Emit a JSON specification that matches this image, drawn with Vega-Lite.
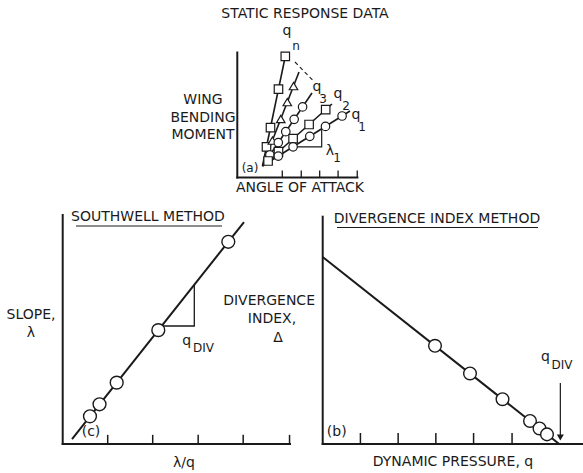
{
  "$schema": "https://vega.github.io/schema/vega-lite/v6.json",
  "background": "white",
  "width": 583,
  "height": 473,
  "autosize": "none",
  "padding": 0,
  "config": {
    "view": {"stroke": null},
    "text": {"font": "DejaVu Sans", "fontSize": 14, "color": "#1a1a1a", "baseline": "middle"},
    "line": {"color": "#1a1a1a", "strokeWidth": 1.8},
    "rule": {"color": "#1a1a1a", "strokeWidth": 1.5}
  },
  "datasets": {
    "a_axes": [{"u": 0, "u2": 0, "v": 0, "v2": 10}, {"u": 0, "u2": 6.46, "v": 0, "v2": 0}],
    "a_ticks": [
      {"u": 2.42, "v": 0, "v2": 0.56}, {"u": 3.44, "v": 0, "v2": 0.56}, {"u": 4.43, "v": 0, "v2": 0.56},
      {"u": 5.42, "v": 0, "v2": 0.56}, {"u": 6.45, "v": 0, "v2": 0.56}
    ],
    "a_lines": [
      {"series": "qn", "u": 1.355, "v": 0.92}, {"series": "qn", "u": 2.619, "v": 9.96},
      {"series": "q4", "u": 1.355, "v": 0.92}, {"series": "q4", "u": 3.318, "v": 8.44},
      {"series": "q3", "u": 1.355, "v": 0.92}, {"series": "q3", "u": 4.017, "v": 6.76},
      {"series": "q2", "u": 1.355, "v": 0.92}, {"series": "q2", "u": 5.092, "v": 5.88},
      {"series": "q1", "u": 1.355, "v": 0.92}, {"series": "q1", "u": 6.06, "v": 5.32}
    ],
    "a_pts": [
      {"series": "qn", "u": 2.581, "v": 9.688}, {"series": "qn", "u": 2.215, "v": 7.064},
      {"series": "qn", "u": 1.785, "v": 3.992}, {"series": "qn", "u": 1.57, "v": 2.456},
      {"series": "q4", "u": 3.022, "v": 7.312}, {"series": "q4", "u": 2.688, "v": 6.032},
      {"series": "q4", "u": 2.339, "v": 4.68}, {"series": "q4", "u": 1.887, "v": 2.952},
      {"series": "q3", "u": 3.511, "v": 5.648}, {"series": "q3", "u": 3.059, "v": 4.656},
      {"series": "q3", "u": 2.608, "v": 3.664}, {"series": "q3", "u": 2.205, "v": 2.792},
      {"series": "q3", "u": 1.753, "v": 1.8},
      {"series": "q2", "u": 4.753, "v": 5.432}, {"series": "q2", "u": 3.861, "v": 4.24},
      {"series": "q2", "u": 3.0, "v": 3.104}, {"series": "q2", "u": 2.215, "v": 2.064},
      {"series": "q2", "u": 1.656, "v": 1.32},
      {"series": "q1", "u": 5.635, "v": 4.92}, {"series": "q1", "u": 4.742, "v": 4.088},
      {"series": "q1", "u": 3.898, "v": 3.296}, {"series": "q1", "u": 3.0, "v": 2.456},
      {"series": "q1", "u": 2.205, "v": 1.712}
    ],
    "a_dash": [{"u": 3.102, "v": 9.24}, {"u": 4.097, "v": 7.72}],
    "a_bracket": [
      {"ord": 1, "u": 3.0, "v": 2.456}, {"ord": 2, "u": 4.538, "v": 2.456}, {"ord": 3, "u": 4.538, "v": 3.896}
    ],
    "a_text": [
      {"t": "STATIC RESPONSE DATA", "u": 3.64, "v": 13.08},
      {"t": "ANGLE OF ATTACK", "u": 3.371, "v": -0.84},
      {"t": "WING", "u": -1.844, "v": 6.2},
      {"t": "BENDING", "u": -1.844, "v": 4.76},
      {"t": "MOMENT", "u": -1.844, "v": 3.4},
      {"t": "q", "u": 2.672, "v": 11.7},
      {"t": "q", "u": 4.285, "v": 7.26},
      {"t": "q", "u": 5.414, "v": 6.66},
      {"t": "q", "u": 6.383, "v": 4.98},
      {"t": "λ", "u": 4.984, "v": 2.12}
    ],
    "a_sub": [
      {"t": "n", "u": 3.156, "v": 10.52},
      {"t": "3", "u": 4.608, "v": 6.28},
      {"t": "2", "u": 5.845, "v": 5.72},
      {"t": "1", "u": 6.705, "v": 4.04},
      {"t": "1", "u": 5.36, "v": 1.56},
      {"t": "(a)", "u": 0.683, "v": 0.76}
    ],
    "c_axes": [{"u": 0, "u2": 0, "v": 0, "v2": 5}, {"u": 0, "u2": 5, "v": 0, "v2": 0}],
    "c_ticks": [
      {"u": 0.99, "v": 0, "v2": 0.2}, {"u": 1.98, "v": 0, "v2": 0.2}, {"u": 2.98, "v": 0, "v2": 0.2},
      {"u": 3.97, "v": 0, "v2": 0.2}, {"u": 4.99, "v": 0, "v2": 0.2}
    ],
    "c_line": [{"u": 0.205, "v": 0.109}, {"u": 3.988, "v": 4.847}],
    "c_pts": [
      {"u": 0.6, "v": 0.604}, {"u": 0.81, "v": 0.867}, {"u": 1.188, "v": 1.34},
      {"u": 2.103, "v": 2.486}, {"u": 3.643, "v": 4.415}
    ],
    "c_tri": [
      {"ord": 1, "u": 2.175, "v": 2.576}, {"ord": 2, "u": 2.895, "v": 2.576}, {"ord": 3, "u": 2.895, "v": 3.478}
    ],
    "c_under": [{"u": 0.293, "u2": 3.504, "v": 4.76}],
    "c_text": [
      {"t": "SOUTHWELL METHOD", "u": 1.876, "v": 4.956},
      {"t": "λ/q", "u": 2.668, "v": -0.415},
      {"t": "(c)", "u": 0.623, "v": 0.262},
      {"t": "q", "u": 2.728, "v": 2.249},
      {"t": "SLOPE,", "u": -0.697, "v": 2.817},
      {"t": "λ", "u": -0.697, "v": 2.424}
    ],
    "c_sub": [{"t": "DIV", "u": 2.866, "v": 2.096}],
    "b_axes": [{"u": 0, "u2": 0, "v": 0, "v2": 4.963}, {"u": 0, "u2": 6.9, "v": 0, "v2": 0}],
    "b_ticks": [
      {"u": 1.0, "v": 0, "v2": 0.24}, {"u": 2.0, "v": 0, "v2": 0.24}, {"u": 3.0, "v": 0, "v2": 0.24},
      {"u": 4.0, "v": 0, "v2": 0.24}, {"u": 5.02, "v": 0, "v2": 0.24}
    ],
    "b_line": [{"u": 0, "v": 4.083}, {"u": 6.269, "v": 0}],
    "b_pts": [
      {"u": 2.977, "v": 2.144}, {"u": 3.905, "v": 1.54}, {"u": 4.767, "v": 0.978},
      {"u": 5.496, "v": 0.503}, {"u": 5.748, "v": 0.339}, {"u": 5.946, "v": 0.21}
    ],
    "b_arrow": [{"u": 6.3, "v": 0.12, "v2": 1.332}],
    "b_head": [{"u": 6.3, "v": 0.142}],
    "b_under": [{"u": 0.379, "u2": 5.708, "v": 4.727}],
    "b_text": [
      {"t": "DIVERGENCE INDEX METHOD", "u": 3.03, "v": 4.913},
      {"t": "DYNAMIC PRESSURE, q", "u": 3.454, "v": -0.393},
      {"t": "(b)", "u": 0.371, "v": 0.269},
      {"t": "q", "u": 5.907, "v": 1.906},
      {"t": "DIVERGENCE", "u": -1.422, "v": 3.122},
      {"t": "INDEX,", "u": -1.344, "v": 2.729},
      {"t": "Δ", "u": -1.185, "v": 2.314}
    ],
    "b_sub": [{"t": "DIV", "u": 6.066, "v": 1.73}]
  },
  "resolve": {"scale": {"x": "independent", "y": "independent"}},
  "layer": [
    {
      "encoding": {
        "x": {"field": "u", "type": "quantitative", "scale": {"domain": [-12.759, 18.589], "nice": false, "zero": false}, "axis": null},
        "y": {"field": "v", "type": "quantitative", "scale": {"domain": [-23.64, 14.2], "nice": false, "zero": false}, "axis": null}
      },
      "layer": [
        {"data": {"name": "a_axes"}, "mark": {"type": "rule", "strokeWidth": 2, "strokeCap": "square"}, "encoding": {"x2": {"field": "u2"}, "y2": {"field": "v2"}}},
        {"data": {"name": "a_ticks"}, "mark": {"type": "rule", "strokeWidth": 1.3}, "encoding": {"y2": {"field": "v2"}}},
        {"data": {"name": "a_lines"}, "mark": {"type": "line", "strokeWidth": 1.6}, "encoding": {"detail": {"field": "series"}}},
        {"data": {"name": "a_dash"}, "mark": {"type": "line", "strokeWidth": 1.1, "strokeDash": [4, 3]}, "encoding": {}},
        {"data": {"name": "a_bracket"}, "mark": {"type": "line", "strokeWidth": 1.2}, "encoding": {"order": {"field": "ord"}}},
        {
          "data": {"name": "a_pts"},
          "mark": {"type": "point", "fill": "white", "stroke": "#1a1a1a", "strokeWidth": 1.2, "size": 72, "opacity": 1, "fillOpacity": 1},
          "encoding": {
            "shape": {"field": "series", "type": "nominal", "legend": null,
              "scale": {"domain": ["q1", "q2", "q3", "q4", "qn"], "range": ["circle", "square", "circle", "triangle-up", "square"]}}
          }
        },
        {"data": {"name": "a_text"}, "mark": {"type": "text", "fontSize": 14}, "encoding": {"text": {"field": "t"}}},
        {"data": {"name": "a_sub"}, "mark": {"type": "text", "fontSize": 12}, "encoding": {"text": {"field": "t"}}}
      ]
    },
    {
      "encoding": {
        "x": {"field": "u", "type": "quantitative", "scale": {"domain": [-1.3792, 11.4453], "nice": false, "zero": false}, "axis": null},
        "y": {"field": "v", "type": "quantitative", "scale": {"domain": [-0.6332, 9.6943], "nice": false, "zero": false}, "axis": null}
      },
      "layer": [
        {"data": {"name": "c_axes"}, "mark": {"type": "rule", "strokeWidth": 2, "strokeCap": "square"}, "encoding": {"x2": {"field": "u2"}, "y2": {"field": "v2"}}},
        {"data": {"name": "c_ticks"}, "mark": {"type": "rule", "strokeWidth": 1.5}, "encoding": {"y2": {"field": "v2"}}},
        {"data": {"name": "c_line"}, "mark": {"type": "line", "strokeWidth": 2}, "encoding": {}},
        {"data": {"name": "c_tri"}, "mark": {"type": "line", "strokeWidth": 1.3}, "encoding": {"order": {"field": "ord"}}},
        {"data": {"name": "c_under"}, "mark": {"type": "rule", "strokeWidth": 1.2}, "encoding": {"x2": {"field": "u2"}}},
        {"data": {"name": "c_pts"}, "mark": {"type": "point", "shape": "circle", "fill": "white", "stroke": "#1a1a1a", "strokeWidth": 1.4, "size": 165, "opacity": 1, "fillOpacity": 1}, "encoding": {}},
        {"data": {"name": "c_text"}, "mark": {"type": "text", "fontSize": 14}, "encoding": {"text": {"field": "t"}}},
        {"data": {"name": "c_sub"}, "mark": {"type": "text", "fontSize": 12, "align": "left"}, "encoding": {"text": {"field": "t"}}}
      ]
    },
    {
      "encoding": {
        "x": {"field": "u", "type": "quantitative", "scale": {"domain": [-8.5552, 6.9008], "nice": false, "zero": false}, "axis": null},
        "y": {"field": "v", "type": "quantitative", "scale": {"domain": [-0.6332, 9.6943], "nice": false, "zero": false}, "axis": null}
      },
      "layer": [
        {"data": {"name": "b_axes"}, "mark": {"type": "rule", "strokeWidth": 2, "strokeCap": "square"}, "encoding": {"x2": {"field": "u2"}, "y2": {"field": "v2"}}},
        {"data": {"name": "b_ticks"}, "mark": {"type": "rule", "strokeWidth": 1.5}, "encoding": {"y2": {"field": "v2"}}},
        {"data": {"name": "b_line"}, "mark": {"type": "line", "strokeWidth": 2}, "encoding": {}},
        {"data": {"name": "b_arrow"}, "mark": {"type": "rule", "strokeWidth": 1.2}, "encoding": {"y2": {"field": "v2"}}},
        {"data": {"name": "b_head"}, "mark": {"type": "point", "shape": "triangle-down", "filled": true, "color": "#1a1a1a", "size": 50, "opacity": 1}, "encoding": {}},
        {"data": {"name": "b_under"}, "mark": {"type": "rule", "strokeWidth": 1.2}, "encoding": {"x2": {"field": "u2"}}},
        {"data": {"name": "b_pts"}, "mark": {"type": "point", "shape": "circle", "fill": "white", "stroke": "#1a1a1a", "strokeWidth": 1.4, "size": 160, "opacity": 1, "fillOpacity": 1}, "encoding": {}},
        {"data": {"name": "b_text"}, "mark": {"type": "text", "fontSize": 14}, "encoding": {"text": {"field": "t"}}},
        {"data": {"name": "b_sub"}, "mark": {"type": "text", "fontSize": 12, "align": "left"}, "encoding": {"text": {"field": "t"}}}
      ]
    }
  ]
}
